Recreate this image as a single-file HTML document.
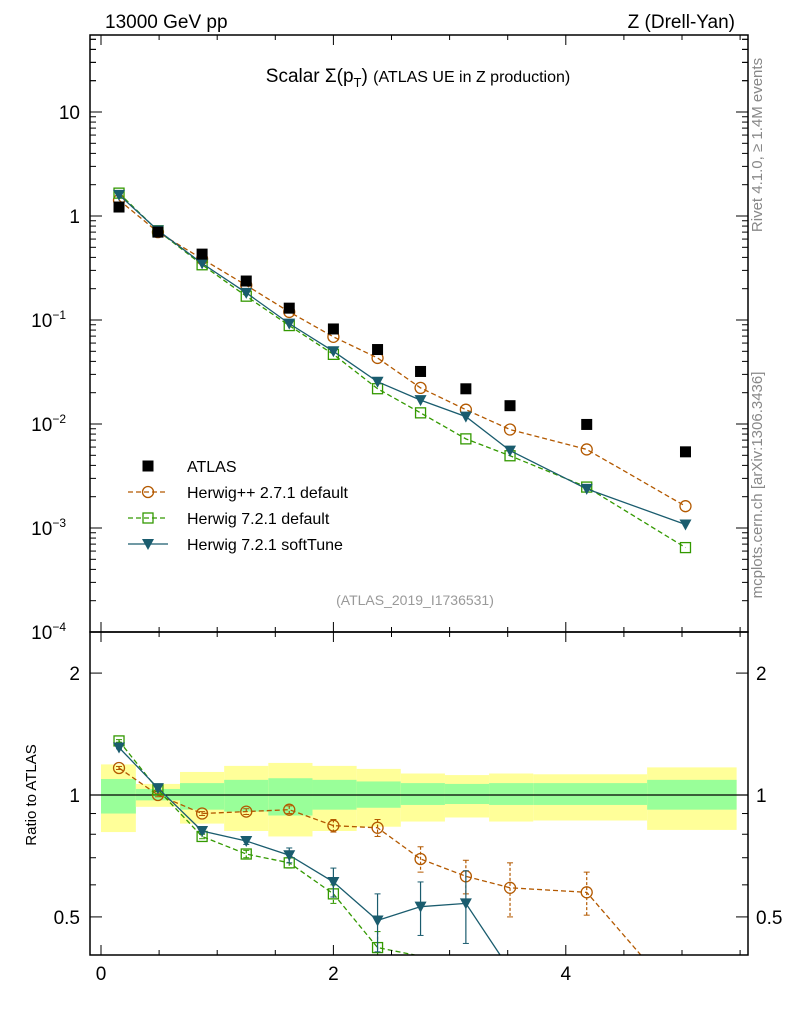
<!DOCTYPE html>
<html><head><meta charset="utf-8"><style>
html,body{margin:0;padding:0;background:#fff;overflow:hidden;width:786px;height:1024px;}
svg{display:block;}
svg text{font-family:"Liberation Sans",sans-serif;}
</style></head><body>
<svg id="chart" width="786" height="1024" xmlns="http://www.w3.org/2000/svg">
<g id="bands"></g>
<g id="marks"></g>
<g id="axes"></g>
<text x="105" y="28" font-size="19">13000 GeV pp</text>
<text x="735" y="28" font-size="19" text-anchor="end">Z (Drell-Yan)</text>
<text x="418" y="82" font-size="19" text-anchor="middle">Scalar Σ(p<tspan font-size="13" dy="5">T</tspan><tspan dy="-5">) </tspan><tspan font-size="16">(ATLAS UE in Z production)</tspan></text>
<text transform="translate(762,145) rotate(-90)" font-size="15" fill="#888" text-anchor="middle">Rivet 4.1.0, ≥ 1.4M events</text>
<text transform="translate(762,485) rotate(-90)" font-size="15" fill="#888" text-anchor="middle">mcplots.cern.ch [arXiv:1306.3436]</text>
<text x="415" y="605" font-size="14" fill="#999" text-anchor="middle">(ATLAS_2019_I1736531)</text>
<text transform="translate(36,795) rotate(-90)" font-size="15" text-anchor="middle">Ratio to ATLAS</text>
<g id="legend"></g>
</svg>
<script>
const xs=[0.155,0.49,0.87,1.25,1.62,2.0,2.38,2.75,3.14,3.52,4.18,5.03];
const atlas=[1.22,0.70,0.43,0.237,0.13,0.082,0.052,0.032,0.0218,0.015,0.0099,0.0054];
const ratioHpp=[1.166,1.0,0.90,0.91,0.92,0.84,0.83,0.695,0.63,0.59,0.575,0.30];
const ratioH721=[1.36,1.03,0.79,0.715,0.68,0.57,0.42,0.40,0.33,0.33,0.25,0.12];
const ratioSoft=[1.31,1.04,0.815,0.77,0.71,0.61,0.49,0.53,0.54,0.37,0.24,0.20];
const errHpp=[0.01,0.01,0.01,0.015,0.02,0.03,0.04,0.05,0.06,0.09,0.07,0.1];
const errH721=[0.01,0.01,0.01,0.015,0.02,0.03,0.04,0.05,0.05,0.06,0.07,0.2];
const errSoft=[0.01,0.01,0.01,0.015,0.03,0.05,0.08,0.08,0.11,0.03,0.08,0.15];
const binEdges=[0,0.3,0.68,1.06,1.44,1.82,2.2,2.58,2.96,3.34,3.72,4.7,5.47];
const yelLo=[0.81,0.935,0.85,0.815,0.79,0.815,0.835,0.86,0.88,0.86,0.865,0.82];
const yelHi=[1.19,1.065,1.14,1.18,1.2,1.18,1.16,1.13,1.12,1.13,1.125,1.17];
const grnLo=[0.90,0.97,0.92,0.91,0.89,0.92,0.93,0.945,0.95,0.945,0.945,0.92];
const grnHi=[1.095,1.035,1.07,1.09,1.1,1.09,1.08,1.07,1.065,1.07,1.07,1.09];
const L=90,R=748,T=35,M=632,B=955;
const X=v=>101+v*116.2;
const Y=v=>216-Math.log10(v)*104;
const YR=v=>795-Math.log10(v)*405;
const NS="http://www.w3.org/2000/svg";
function mk(p,t,a){const e=document.createElementNS(NS,t);for(const k in a)e.setAttribute(k,a[k]);p.appendChild(e);return e;}
// cut a polyline at y=ymax (keeps only portion above)
function clipPoly(pts,ymax){
 const out=[];
 for(let i=0;i<pts.length;i++){
  const [x,y]=pts[i];
  if(y<=ymax){out.push([x,y]);continue;}
  if(i>0&&pts[i-1][1]<=ymax){const [px,py]=pts[i-1];const t=(ymax-py)/(y-py);out.push([px+t*(x-px),ymax]);}
  break;
 }
 return out.map(p=>p[0]+','+p[1]).join(' ');
}
const bands=document.getElementById('bands'),marks=document.getElementById('marks'),axes=document.getElementById('axes');
for(let i=0;i<yelLo.length;i++){
 const x0=X(binEdges[i]),x1=X(binEdges[i+1]);
 const y=mk(bands,'rect',{x:x0,y:YR(yelHi[i]),width:x1-x0,height:YR(yelLo[i])-YR(yelHi[i]),fill:'#ffff99'});
 
 
 const g=mk(bands,'rect',{x:x0,y:YR(grnHi[i]),width:x1-x0,height:YR(grnLo[i])-YR(grnHi[i]),fill:'#99ff99'});
 
 
}
mk(bands,'line',{x1:L,x2:R,y1:YR(1),y2:YR(1),stroke:'#000','stroke-width':1.2});
const defs=mk(marks,'defs',{});
const c1=mk(defs,'clipPath',{id:'ctop'});mk(c1,'rect',{x:L,y:T,width:R-L,height:M-T});
const c2=mk(defs,'clipPath',{id:'cbot'});mk(c2,'rect',{x:L,y:M,width:R-L,height:B-M});
const topG=mk(marks,'g',{'clip-path':'url(#ctop)'}),botG=mk(marks,'g',{'clip-path':'url(#cbot)'});
function marker(p,type,x,y,col){
 let e;
 if(type==='sq')e=mk(p,'rect',{x:x-5.5,y:y-5.5,width:11,height:11,fill:'#000'});
 else if(type==='circ')e=mk(p,'circle',{cx:x,cy:y,r:5.5,fill:'none',stroke:col,'stroke-width':1.3});
 else if(type==='osq')e=mk(p,'rect',{x:x-5,y:y-5,width:10,height:10,fill:'none',stroke:col,'stroke-width':1.3});
 else e=mk(p,'path',{d:`M${x-6},${y-5}L${x+6},${y-5}L${x},${y+6}Z`,fill:col});
 return e;
}
const series=[
 {name:'herwigpp-271',r:ratioHpp,err:errHpp,col:'#b35900',type:'circ',dash:'5,3'},
 {name:'herwig-721-default',r:ratioH721,err:errH721,col:'#339900',type:'osq',dash:'5,3'},
 {name:'herwig-721-softtune',r:ratioSoft,err:errSoft,col:'#1a5c6e',type:'tri',dash:''}
];
series.forEach(s=>{
 const vals=atlas.map((a,i)=>a*s.r[i]);
 const pts=xs.map((x,i)=>X(x)+','+Y(vals[i])).join(' ');
 const pl=mk(topG,'polyline',{points:pts,fill:'none',stroke:s.col,'stroke-width':1.3,'stroke-dasharray':s.dash});
 
 
 const pr=clipPoly(xs.map((x,i)=>[X(x),YR(s.r[i])]),B);
 const pl2=mk(botG,'polyline',{points:pr,fill:'none',stroke:s.col,'stroke-width':1.3,'stroke-dasharray':s.dash});
 
 
 xs.forEach((x,i)=>{
  const r=s.r[i],e=s.err[i];
  const m=marker(topG,s.type,X(x),Y(vals[i]),s.col);
  
  
  if(YR(r)>B)return;
  const yhi=YR(r+e),ylo=Math.min(YR(r-e),B);
  mk(botG,'line',{x1:X(x),x2:X(x),y1:yhi,y2:ylo,stroke:s.col,'stroke-width':1.2,'stroke-dasharray':s.dash?'3,2':''});
  mk(botG,'line',{x1:X(x)-3,x2:X(x)+3,y1:yhi,y2:yhi,stroke:s.col});
  mk(botG,'line',{x1:X(x)-3,x2:X(x)+3,y1:ylo,y2:ylo,stroke:s.col});
  const m2=marker(botG,s.type,X(x),YR(r),s.col);
  
  
 });
});
xs.forEach((x,i)=>{
 const m=marker(topG,'sq',X(x),Y(atlas[i]),'#000');
 
 
});
[[T,M],[M,B]].forEach(([a,b])=>mk(axes,'rect',{x:L,y:a,width:R-L,height:b-a,fill:'none',stroke:'#000','stroke-width':1.5}));
for(let v=0;v<=5.5;v+=0.5){
 const maj=(v%2===0),len=maj?10:5;
 [T,M,B].forEach(yy=>{
  if(yy!==T) mk(axes,'line',{x1:X(v),x2:X(v),y1:yy,y2:yy-len,stroke:'#000'});
  if(yy!==B) mk(axes,'line',{x1:X(v),x2:X(v),y1:yy,y2:yy+len,stroke:'#000'});
 });
 if(maj){const t=mk(axes,'text',{x:X(v),y:980,'font-size':19,'text-anchor':'middle'});t.textContent=v;
  
  }
}
const ylab=['10','1','10<tspan font-size="12" dy="-8">−1</tspan>','10<tspan font-size="12" dy="-8">−2</tspan>','10<tspan font-size="12" dy="-8">−3</tspan>','10<tspan font-size="12" dy="-8">−4</tspan>'];
for(let d=-4;d<=1;d++){
 for(let k=1;k<10;k++){
  const y=Y(k*Math.pow(10,d));if(y<T||y>M)continue;
  const len=k===1?12:6;
  mk(axes,'line',{x1:L,x2:L+len,y1:y,y2:y,stroke:'#000'});
  mk(axes,'line',{x1:R,x2:R-len,y1:y,y2:y,stroke:'#000'});
 }
 const t=mk(axes,'text',{x:d>=0?80:66,y:Y(Math.pow(10,d))+7,'font-size':19,'text-anchor':'end'});
 t.innerHTML=ylab[1-d];
 
 
}
[20,30,40,50].forEach(v=>{mk(axes,'line',{x1:L,x2:L+6,y1:Y(v),y2:Y(v),stroke:'#000'});mk(axes,'line',{x1:R,x2:R-6,y1:Y(v),y2:Y(v),stroke:'#000'});});
[0.5,0.6,0.7,0.8,0.9,1,2].forEach(v=>{
 const y=YR(v),len=(v===0.5||v===1||v===2)?12:6;
 mk(axes,'line',{x1:L,x2:L+len,y1:y,y2:y,stroke:'#000'});
 mk(axes,'line',{x1:R,x2:R-len,y1:y,y2:y,stroke:'#000'});
 if(len===12){
  const t=mk(axes,'text',{x:80,y:y+7,'font-size':19,'text-anchor':'end'});t.textContent=v;
  
  
  const t2=mk(axes,'text',{x:756,y:y+7,'font-size':19});t2.textContent=v;
  
  
 }
});
const lg=document.getElementById('legend');
const entries=[['ATLAS','sq','#000',''],['Herwig++ 2.7.1 default','circ','#b35900','5,3'],['Herwig 7.2.1 default','osq','#339900','5,3'],['Herwig 7.2.1 softTune','tri','#1a5c6e','']];
entries.forEach((e,i)=>{
 const y=466+i*26;
 const g=mk(lg,'g',{});
 
 
 if(i>0)mk(g,'line',{x1:128,x2:168,y1:y,y2:y,stroke:e[2],'stroke-width':1.3,'stroke-dasharray':e[3]});
 marker(g,e[1],148,y,e[2]);
 const t=mk(g,'text',{x:187,y:y+6,'font-size':16});t.textContent=e[0];
});
</script>
</body></html>
